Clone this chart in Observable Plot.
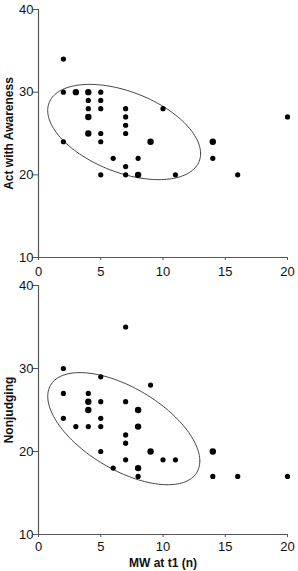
<!DOCTYPE html>
<html><head><meta charset="utf-8">
<script src="https://cdn.jsdelivr.net/npm/d3@7"></script>
<script src="https://cdn.jsdelivr.net/npm/@observablehq/plot@0.6"></script>
<style>
body{margin:0;background:#fff;}
#chart svg{display:block;}
g[aria-label="y-axis label"] text, g[aria-label="x-axis label"] text {font-weight:bold;font-size:12px;}
</style></head><body><div id="chart"></div>
<script>
const xTicks = [0, 5, 10, 15, 20];
const yTicks = [10, 20, 30, 40];

// Panel 1: Act with Awareness vs MW at t1
const awareX = [2, 2, 3, 4, 5, 4, 5, 4, 5, 7, 10, 4, 7, 20, 7, 4, 5, 7, 2, 5, 9, 14, 6, 8, 14, 7, 5, 7, 8, 11, 16];
const awareY = [34, 30, 30, 30, 30, 29, 29, 28, 28, 28, 28, 27, 27, 27, 26, 25, 25, 25, 24, 24, 24, 24, 22, 22, 22, 21, 20, 20, 20, 20, 20];
const awareN = [1, 1, 2, 2, 1, 1, 1, 1, 1, 1, 1, 2, 1, 1, 1, 2, 1, 1, 1, 1, 2, 2, 1, 1, 1, 1, 1, 1, 2, 1, 1];
const awareEllipseCenter = [6.88, 25.18];
const awareEllipseCov = [37.7, -16, 33.2];

// Panel 2: Nonjudging vs MW at t1
const nonjX = [7, 2, 5, 9, 2, 4, 4, 5, 7, 4, 8, 2, 5, 3, 4, 5, 8, 7, 7, 5, 9, 14, 7, 10, 11, 6, 8, 8, 14, 16, 20];
const nonjY = [35, 30, 29, 28, 27, 27, 26, 26, 26, 25, 25, 24, 24, 23, 23, 23, 23, 22, 21, 20, 20, 20, 19, 19, 19, 18, 18, 17, 17, 17, 17];
const nonjN = [1, 1, 1, 1, 1, 1, 2, 1, 1, 2, 2, 1, 1, 1, 1, 1, 2, 1, 1, 1, 2, 2, 1, 1, 1, 1, 2, 1, 1, 1, 1];
const nonjEllipseCenter = [6.85, 22.75];
const nonjEllipseCov = [37.3, -23.8, 45.6];

const xLabel = "MW at t1 (n)";

function ellipsePoints(c, cov, steps = 160) {
  const l11 = Math.sqrt(cov[0]);
  const l21 = cov[1] / l11;
  const l22 = Math.sqrt(cov[2] - l21 * l21);
  return d3.range(steps + 1).map(i => {
    const t = 2 * Math.PI * i / steps;
    return {x: c[0] + l11 * Math.cos(t), y: c[1] + l21 * Math.cos(t) + l22 * Math.sin(t)};
  });
}

function panel({xs, ys, ns, center, cov, yLabel, xLab, height, marginTop, marginBottom, xPad}) {
  const data = xs.map((x, i) => ({x, y: ys[i], n: ns[i]}));
  return Plot.plot({
    width: 298, height, marginLeft: 38, marginRight: 11, marginTop, marginBottom,
    style: {fontFamily: "Liberation Sans, Arial, sans-serif", fontSize: "13px", color: "#111", background: "#fff"},
    x: {domain: [0, 20]},
    y: {domain: [10, 40]},
    r: {type: "linear", domain: [1, 2], range: [2.6, 3.2]},
    marks: [
      Plot.axisY({ticks: yTicks, tickSize: 5, tickPadding: 0, stroke: "#555", fontSize: 13,
        label: yLabel, labelAnchor: "center", labelOffset: 34, labelArrow: "none"}),
      Plot.axisX({ticks: xTicks, tickSize: 3, tickPadding: xPad, stroke: "#555", fontSize: 13,
        label: xLab, labelAnchor: "center", labelOffset: 32, labelArrow: "none"}),
      Plot.ruleX([0], {stroke: "#555", strokeWidth: 1.2}),
      Plot.ruleY([10], {stroke: "#555", strokeWidth: 1.2}),
      Plot.line(ellipsePoints(center, cov), {x: "x", y: "y", stroke: "#444", strokeWidth: 1, curve: "linear"}),
      Plot.dot(data, {x: "x", y: "y", r: "n", fill: "#000", stroke: "none"})
    ]
  });
}

const chart = document.getElementById("chart");
chart.append(panel({xs: awareX, ys: awareY, ns: awareN, center: awareEllipseCenter, cov: awareEllipseCov,
  yLabel: "Act with Awareness", xLab: null, height: 278, marginTop: 9, marginBottom: 21, xPad: 6}));
chart.append(panel({xs: nonjX, ys: nonjY, ns: nonjN, center: nonjEllipseCenter, cov: nonjEllipseCov,
  yLabel: "Nonjudging", xLab: xLabel, height: 293, marginTop: 7, marginBottom: 37, xPad: 4}));
</script></body></html>
